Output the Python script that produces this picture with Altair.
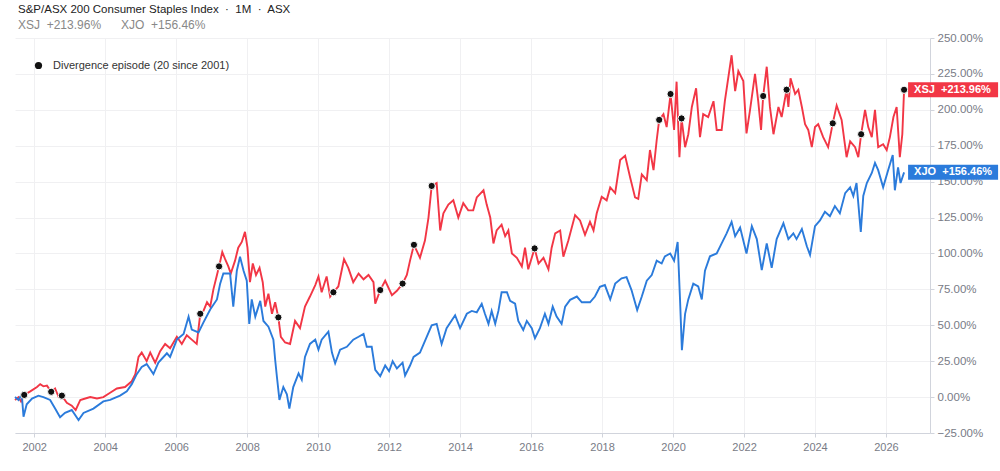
import altair as alt
import pandas as pd

# ---- data (decimal year, % change) ----
xsj_t = [2001.46, 2001.56, 2001.63, 2001.72, 2001.89, 2002.08, 2002.17, 2002.26, 2002.36, 2002.48,
         2002.59, 2002.69, 2002.78, 2002.92, 2003.06, 2003.17, 2003.30, 2003.44, 2003.58, 2003.77,
         2003.95, 2004.14, 2004.33, 2004.56, 2004.75, 2004.85, 2004.94, 2005.03, 2005.17, 2005.27,
         2005.41, 2005.55, 2005.69, 2005.83, 2006.02, 2006.16, 2006.30, 2006.44, 2006.58, 2006.68,
         2006.77, 2006.87, 2006.96, 2007.05, 2007.15, 2007.21, 2007.30, 2007.38, 2007.47, 2007.54,
         2007.66, 2007.75, 2007.85, 2007.94, 2008.01, 2008.08, 2008.16, 2008.25, 2008.35, 2008.44,
         2008.51, 2008.60, 2008.70, 2008.79, 2008.88, 2008.95, 2009.07, 2009.21, 2009.35, 2009.49,
         2009.63, 2009.77, 2009.92, 2010.01, 2010.10, 2010.24, 2010.34, 2010.43, 2010.57, 2010.73,
         2010.85, 2010.99, 2011.14, 2011.28, 2011.42, 2011.56, 2011.61, 2011.75, 2011.89, 2012.08,
         2012.22, 2012.38, 2012.50, 2012.59, 2012.70, 2012.87, 2013.01, 2013.11, 2013.20, 2013.34,
         2013.44, 2013.53, 2013.67, 2013.81, 2013.95, 2014.09, 2014.23, 2014.37, 2014.47, 2014.66,
         2014.75, 2014.85, 2014.94, 2015.03, 2015.17, 2015.27, 2015.36, 2015.46, 2015.60, 2015.74,
         2015.83, 2015.92, 2016.10, 2016.21, 2016.35, 2016.49, 2016.58, 2016.68, 2016.82, 2016.91,
         2017.05, 2017.24, 2017.38, 2017.52, 2017.66, 2017.76, 2017.85, 2017.99, 2018.13, 2018.23,
         2018.37, 2018.51, 2018.65, 2018.79, 2018.93, 2019.02, 2019.12, 2019.26, 2019.35, 2019.45,
         2019.54, 2019.61, 2019.73, 2019.82, 2019.93, 2020.03, 2020.10, 2020.18, 2020.24, 2020.34,
         2020.43, 2020.53, 2020.65, 2020.76, 2020.85, 2020.99, 2021.14, 2021.23, 2021.37, 2021.46,
         2021.65, 2021.75, 2021.84, 2021.98, 2022.07, 2022.17, 2022.31, 2022.40, 2022.48, 2022.54,
         2022.64, 2022.73, 2022.83, 2022.97, 2023.06, 2023.20, 2023.25, 2023.31, 2023.44, 2023.53,
         2023.63, 2023.72, 2023.81, 2023.91, 2024.00, 2024.09, 2024.23, 2024.37, 2024.50, 2024.61,
         2024.75, 2024.89, 2024.99, 2025.13, 2025.22, 2025.30, 2025.41, 2025.50, 2025.60, 2025.69,
         2025.78, 2025.92, 2026.02, 2026.11, 2026.21, 2026.30, 2026.39, 2026.46, 2026.51]
xsj_v = [-2, 0, -3, 1.5, 4, 7, 9, 7.5, 8, 3.7,
         6, 0, 1, -4, -6, -9, -2, -1, 0, -1,
         0, 3, 6, 7, 11, 16, 28, 31, 25, 31,
         24, 32, 37, 34, 42, 37, 43, 40, 37, 58,
         60, 66, 63, 75, 85, 91, 101, 96, 91, 86,
         95, 104, 108, 115, 104, 80, 93, 85, 90, 80,
         63, 72, 58, 66, 55.5, 42, 38, 37, 53, 48,
         63, 70, 78, 84, 73, 84, 70, 73, 77, 96,
         90, 80, 86, 82, 85, 80, 65, 74.5, 81, 71,
         74, 79, 85, 95, 106, 97, 109, 125, 147, 149,
         116, 128, 134, 137, 125, 135, 130, 130, 139, 144,
         134, 125, 107, 116, 120, 112, 116, 100, 97, 91,
         104, 89, 103.5, 93, 97, 89, 104, 114, 116, 97.7,
         109, 126.7, 123, 113, 122, 116, 128, 139.5, 137, 146,
         142, 165, 168, 153, 139, 138, 155, 151, 172, 158,
         179, 193, 197, 188, 211, 186, 219.6, 167, 194, 174,
         183, 202, 215, 181, 197, 195, 206, 186, 186, 206,
         238, 213, 227, 220, 183.6, 200, 225, 206, 186, 209.6,
         230, 202, 183, 202, 195, 214, 202, 222, 211, 214,
         202, 190, 186, 174, 188, 190, 181, 174, 190.6, 203,
         193, 167, 178, 174, 167, 183, 200, 188, 181, 200,
         174, 176, 172, 181, 195, 202, 167, 183, 213.96]

xjo_t = [2001.46, 2001.56, 2001.65, 2001.70, 2001.79, 2001.94, 2002.12, 2002.26, 2002.45, 2002.59,
         2002.73, 2002.87, 2003.06, 2003.25, 2003.39, 2003.67, 2003.95, 2004.14, 2004.42, 2004.61,
         2004.75, 2004.89, 2005.03, 2005.17, 2005.36, 2005.50, 2005.74, 2005.83, 2006.02, 2006.21,
         2006.35, 2006.44, 2006.63, 2006.77, 2006.96, 2007.15, 2007.24, 2007.33, 2007.52, 2007.61,
         2007.71, 2007.80, 2007.90, 2007.99, 2008.06, 2008.13, 2008.23, 2008.37, 2008.46, 2008.60,
         2008.74, 2008.79, 2008.84, 2008.91, 2009.02, 2009.12, 2009.19, 2009.30, 2009.45, 2009.54,
         2009.63, 2009.77, 2009.92, 2010.01, 2010.10, 2010.29, 2010.39, 2010.48, 2010.62, 2010.81,
         2010.99, 2011.14, 2011.28, 2011.37, 2011.51, 2011.61, 2011.75, 2011.89, 2012.00, 2012.10,
         2012.22, 2012.38, 2012.45, 2012.59, 2012.69, 2012.87, 2013.06, 2013.20, 2013.34, 2013.48,
         2013.62, 2013.86, 2014.00, 2014.19, 2014.33, 2014.47, 2014.61, 2014.70, 2014.80, 2014.89,
         2014.99, 2015.08, 2015.17, 2015.32, 2015.41, 2015.55, 2015.64, 2015.78, 2015.88, 2016.02,
         2016.11, 2016.25, 2016.39, 2016.49, 2016.61, 2016.72, 2016.86, 2016.96, 2017.10, 2017.29,
         2017.43, 2017.66, 2017.80, 2017.94, 2018.08, 2018.23, 2018.37, 2018.55, 2018.69, 2018.83,
         2018.99, 2019.12, 2019.26, 2019.40, 2019.54, 2019.68, 2019.77, 2019.92, 2020.03, 2020.13,
         2020.20, 2020.25, 2020.34, 2020.43, 2020.57, 2020.71, 2020.81, 2020.90, 2021.04, 2021.23,
         2021.37, 2021.51, 2021.65, 2021.75, 2021.89, 2022.07, 2022.22, 2022.36, 2022.50, 2022.64,
         2022.78, 2022.92, 2023.11, 2023.25, 2023.39, 2023.48, 2023.63, 2023.77, 2023.86, 2024.00,
         2024.14, 2024.28, 2024.42, 2024.56, 2024.70, 2024.85, 2024.99, 2025.08, 2025.17, 2025.29,
         2025.36, 2025.46, 2025.60, 2025.69, 2025.78, 2025.92, 2026.06, 2026.19, 2026.25, 2026.34,
         2026.41, 2026.51]
xjo_v = [0, -2, 2, -13.7, -5, -1, 1, 0, -2, -8,
         -14, -11, -9, -16, -11, -8, -3, -2, 1, 4,
         9, 16, 21, 23, 16, 24, 30.5, 28, 40, 44,
         56, 47, 45, 52, 61, 68, 79, 86, 86, 63,
         88, 97.7, 88, 81, 51, 68, 56, 67, 53, 49,
         40, 26, 14, -2, 7, 2, -8, 7, 16.5, 12,
         28, 37, 40, 33, 40, 45.5, 31, 23.5, 33, 35,
         40, 42, 44, 35, 35, 19, 14.6, 22, 18, 25,
         20, 24, 15, 22, 28, 31, 42, 50, 51, 37,
         48, 57, 48, 58, 60, 59, 65, 58, 51, 60,
         51, 60, 73, 73, 67, 65, 53, 46.7, 53, 48,
         41, 48, 58, 51, 63, 56, 51, 63, 67.7, 70,
         66, 66, 70, 76.8, 78, 68, 79, 82.7, 83.5, 74.5,
         60.6, 70, 81, 85, 95, 93, 98, 100, 95, 108,
         66, 32.7, 58, 68, 79, 77, 68, 88, 98, 100,
         107, 114, 122, 112, 118, 100, 119, 110, 88.4, 107,
         90, 110, 121, 110, 114, 110, 117, 105, 99, 119,
         123, 129, 126, 133, 128, 142, 146, 140, 149, 115,
         140, 149, 156, 163, 158, 146, 158, 168.5, 144, 160,
         149, 156.46]

dot_t = [2001.72, 2002.48, 2002.78, 2006.68, 2007.21, 2008.88, 2010.43, 2011.75, 2012.38, 2012.70,
         2013.20, 2016.10, 2019.61, 2019.93, 2020.24, 2022.54, 2023.20, 2024.50, 2025.30, 2026.51]
dot_v = [1.5, 3.7, 1, 58, 91, 55.5, 73, 74.5, 79, 106,
         147, 103.5, 193, 211, 194, 209.6, 214, 190.6, 183, 213.96]

series_names = ["XSJ", "XJO"]
end_labels = ["XSJ\u00a0\u00a0+213.96%", "XJO\u00a0\u00a0+156.46%"]
dot_label = "Divergence episode (20 since 2001)"
y_ticks = [-25, 0, 25, 50, 75, 100, 125, 150, 175, 200, 225, 250]
x_ticks = [2002, 2004, 2006, 2008, 2010, 2012, 2014, 2016, 2018, 2020, 2022, 2024, 2026]

RED = "#F23645"
BLUE = "#2B7BDB"
FONT = "Liberation Sans"

xsj = pd.DataFrame({"t": xsj_t, "v": xsj_v})
xjo = pd.DataFrame({"t": xjo_t, "v": xjo_v})
dots = pd.DataFrame({"t": dot_t, "v": dot_v, "k": [dot_label] * len(dot_t)})
ends = pd.DataFrame({
    "t": [xsj_t[-1], xjo_t[-1]],
    "v": [xsj_v[-1], xjo_v[-1]],
    "s": series_names,
    "label": end_labels,
})

x_enc = alt.X("t:Q",
              scale=alt.Scale(domain=[2001.46, 2027.24], nice=False, zero=False),
              axis=alt.Axis(values=x_ticks, tickCount=len(x_ticks) + 5, format="d", title=None,
                            grid=True, gridColor="#f0f0f2", domainColor="#d1d4dc",
                            tickColor="#d1d4dc", tickSize=4, labelColor="#787b86",
                            labelFontSize=11, labelFont=FONT, labelPadding=4,
                            labelOverlap=False))
y_enc = alt.Y("v:Q",
              scale=alt.Scale(domain=[-25, 250], nice=False, zero=False),
              axis=alt.Axis(orient="right", values=y_ticks, tickCount=len(y_ticks) + 5,
                            title=None, grid=True,
                            labelExpr="format(datum.value, '.2f') + '%'",
                            gridColor="#f0f0f2", domainColor="#d1d4dc", tickColor="#d1d4dc",
                            tickSize=4, labelColor="#787b86", labelFontSize=11.5, labelFont=FONT,
                            labelPadding=3, labelOverlap=False, labelFlush=False))

base_axes = alt.Chart(xsj).mark_line(opacity=0).encode(x=x_enc, y=y_enc)

line_xsj = alt.Chart(xsj).mark_line(color=RED, strokeWidth=1.9).encode(x="t:Q", y="v:Q")
line_xjo = alt.Chart(xjo).mark_line(color=BLUE, strokeWidth=1.9).encode(x="t:Q", y="v:Q")

dot_layer = alt.Chart(dots).mark_point(filled=True, size=52, opacity=1, stroke="white",
                                       strokeWidth=1).encode(
    x="t:Q", y="v:Q",
    color=alt.Color("k:N", scale=alt.Scale(domain=[dot_label], range=["#111111"]),
                    legend=alt.Legend(title=None, orient="none", legendX=18, legendY=22,
                                      padding=0, labelFontSize=11, labelColor="#333333",
                                      labelFont=FONT, symbolSize=52, symbolType="circle",
                                      symbolStrokeWidth=0, labelOffset=9, labelLimit=500)),
)

box_xsj = alt.Chart(ends[ends["s"] == "XSJ"]).mark_rect(
    color=RED, xOffset=4, x2Offset=94, yOffset=-7.5, y2Offset=7.5).encode(
    x="t:Q", x2="t:Q", y="v:Q", y2="v:Q")
box_xjo = alt.Chart(ends[ends["s"] == "XJO"]).mark_rect(
    color=BLUE, xOffset=4, x2Offset=94, yOffset=-7.5, y2Offset=7.5).encode(
    x="t:Q", x2="t:Q", y="v:Q", y2="v:Q")
box_text = alt.Chart(ends).mark_text(align="left", baseline="middle", dx=10, color="white",
                                     fontWeight="bold", fontSize=11, font=FONT).encode(
    x="t:Q", y="v:Q", text="label:N")

chart = alt.layer(base_axes, line_xsj, line_xjo, dot_layer, box_xsj, box_xjo, box_text).properties(
    width=915, height=395,
    background="white",
    autosize=alt.AutoSizeParams(type="none"),
    padding={"left": 15, "top": 38, "right": 70, "bottom": 38},
    title=alt.TitleParams(
        text="S&P/ASX 200 Consumer Staples Index \u00a0·\u00a0 1M \u00a0·\u00a0 ASX",
        subtitle="XSJ\u00a0\u00a0+213.96%\u00a0\u00a0\u00a0\u00a0\u00a0\u00a0XJO\u00a0\u00a0+156.46%",
        anchor="start", frame="group", dx=3, offset=1,
        font=FONT, fontSize=11.5, fontWeight="normal", color="#222222",
        subtitleFont=FONT, subtitleFontSize=12, subtitleColor="#888888", subtitlePadding=5,
    ),
).configure_view(stroke=None)

chart.save("out.html", embed_options={"renderer": "svg", "actions": False})
